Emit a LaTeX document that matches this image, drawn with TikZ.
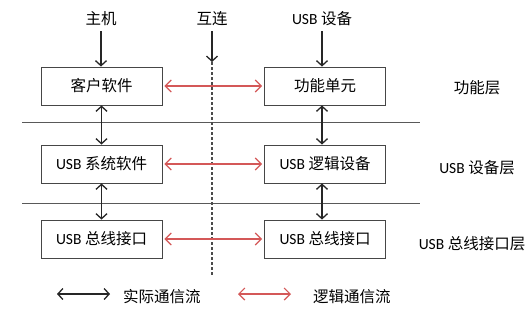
\documentclass[tikz,border=0pt]{standalone}
\usepackage{fontspec}
\setmainfont{Carlito}
\newfontfamily\cjk{Noto Sans CJK SC}
\usetikzlibrary{arrows.meta}
\definecolor{lred}{RGB}{212,88,88}
\definecolor{boxline}{RGB}{70,70,70}
\tikzset{
  box/.style={draw=boxline,line width=0.9pt,minimum width=121pt,minimum height=38pt,inner sep=0pt,font=\fontsize{15.5}{17}\selectfont},
  lbl/.style={inner sep=0pt,font=\fontsize{15.5}{17}\selectfont},
  blk/.style={line width=1.3pt,black!85,{Straight Barb[length=5pt,width=11pt]}-{Straight Barb[length=5pt,width=11pt]}},
  blkone/.style={line width=1.3pt,black!85,-{Straight Barb[length=5pt,width=11pt]}},
  red/.style={line width=1.2pt,lred,{Straight Barb[length=6pt,width=12pt]}-{Straight Barb[length=6pt,width=12pt]}},
  sep/.style={line width=0.9pt,black!65},
}
\begin{document}
\begin{tikzpicture}[x=1pt,y=-1pt]
\useasboundingbox[fill=white] (0,0) rectangle (529,324);
% separators
\coordinate (s1a) at (22,122); \coordinate (s1b) at (420,122);
\coordinate (s2a) at (22,203); \coordinate (s2b) at (420,203);
\draw[sep] (s1a) -- (s1b);
\draw[sep] (s2a) -- (s2b);
% dashed line
\coordinate (dtop) at (212,62); \coordinate (dbot) at (212,275);
\draw[line width=1.2pt,black!70,dash pattern=on 2.5pt off 2.5pt] (dtop) -- (dbot);
% boxes
\node[box] (c) at (101.5,86) {\cjk 客户软件};
\node[box] (f) at (325,86) {\cjk 功能单元};
\node[box] (us) at (101.5,164) {USB {\cjk 系统软件}};
\node[box] (ul) at (325,164) {USB {\cjk 逻辑设备}};
\node[box] (b1) at (101.5,239) {USB {\cjk 总线接口}};
\node[box] (b2) at (325,239) {USB {\cjk 总线接口}};
% top labels
\node[lbl] (host) at (101,19) {\cjk 主机};
\node[lbl] (ic) at (212,19) {\cjk 互连};
\node[lbl] (dev) at (322,19) {USB {\cjk 设备}};
\draw[blkone] (host.south) ++(0,5) coordinate (h0) -- (c.north -| h0);
\draw[blkone] (ic.south) ++(0,5) coordinate (i0) -- (dtop);
\draw[blkone] (dev.south) ++(0,5) coordinate (d0) -- (d0 |- f.north);
% right labels
\node[lbl] (l1) at (477,88) {\cjk 功能层};
\node[lbl] (l2) at (477,168) {USB {\cjk 设备层}};
\node[lbl] (l3) at (472,244) {USB {\cjk 总线接口层}};
% vertical arrows
\draw[blk] (c.south) -- (us.north);
\draw[blk] (us.south) -- (b1.north);
\draw[blk] ([xshift=-3pt]f.south) -- ([xshift=-3pt]ul.north);
\draw[blk] ([xshift=-3pt]ul.south) -- ([xshift=-3pt]b2.north);
% red arrows
\draw[red] ([xshift=2pt]c.east) -- ([xshift=-2pt]f.west);
\draw[red] ([xshift=2pt]us.east) -- ([xshift=-2pt]ul.west);
\draw[red] ([xshift=2pt]b1.east) -- ([xshift=-2pt]b2.west);
% legend
\coordinate (la) at (57,294); \coordinate (lb) at (110,294);
\draw[blk] (la) -- (lb);
\node[lbl,anchor=west] (t1) at (123,297) {\cjk 实际通信流};
\coordinate (ra) at (238,294); \coordinate (rb) at (291,294);
\draw[red] (ra) -- (rb);
\node[lbl,anchor=west] (t2) at (313,297) {\cjk 逻辑通信流};
\end{tikzpicture}
\end{document}
